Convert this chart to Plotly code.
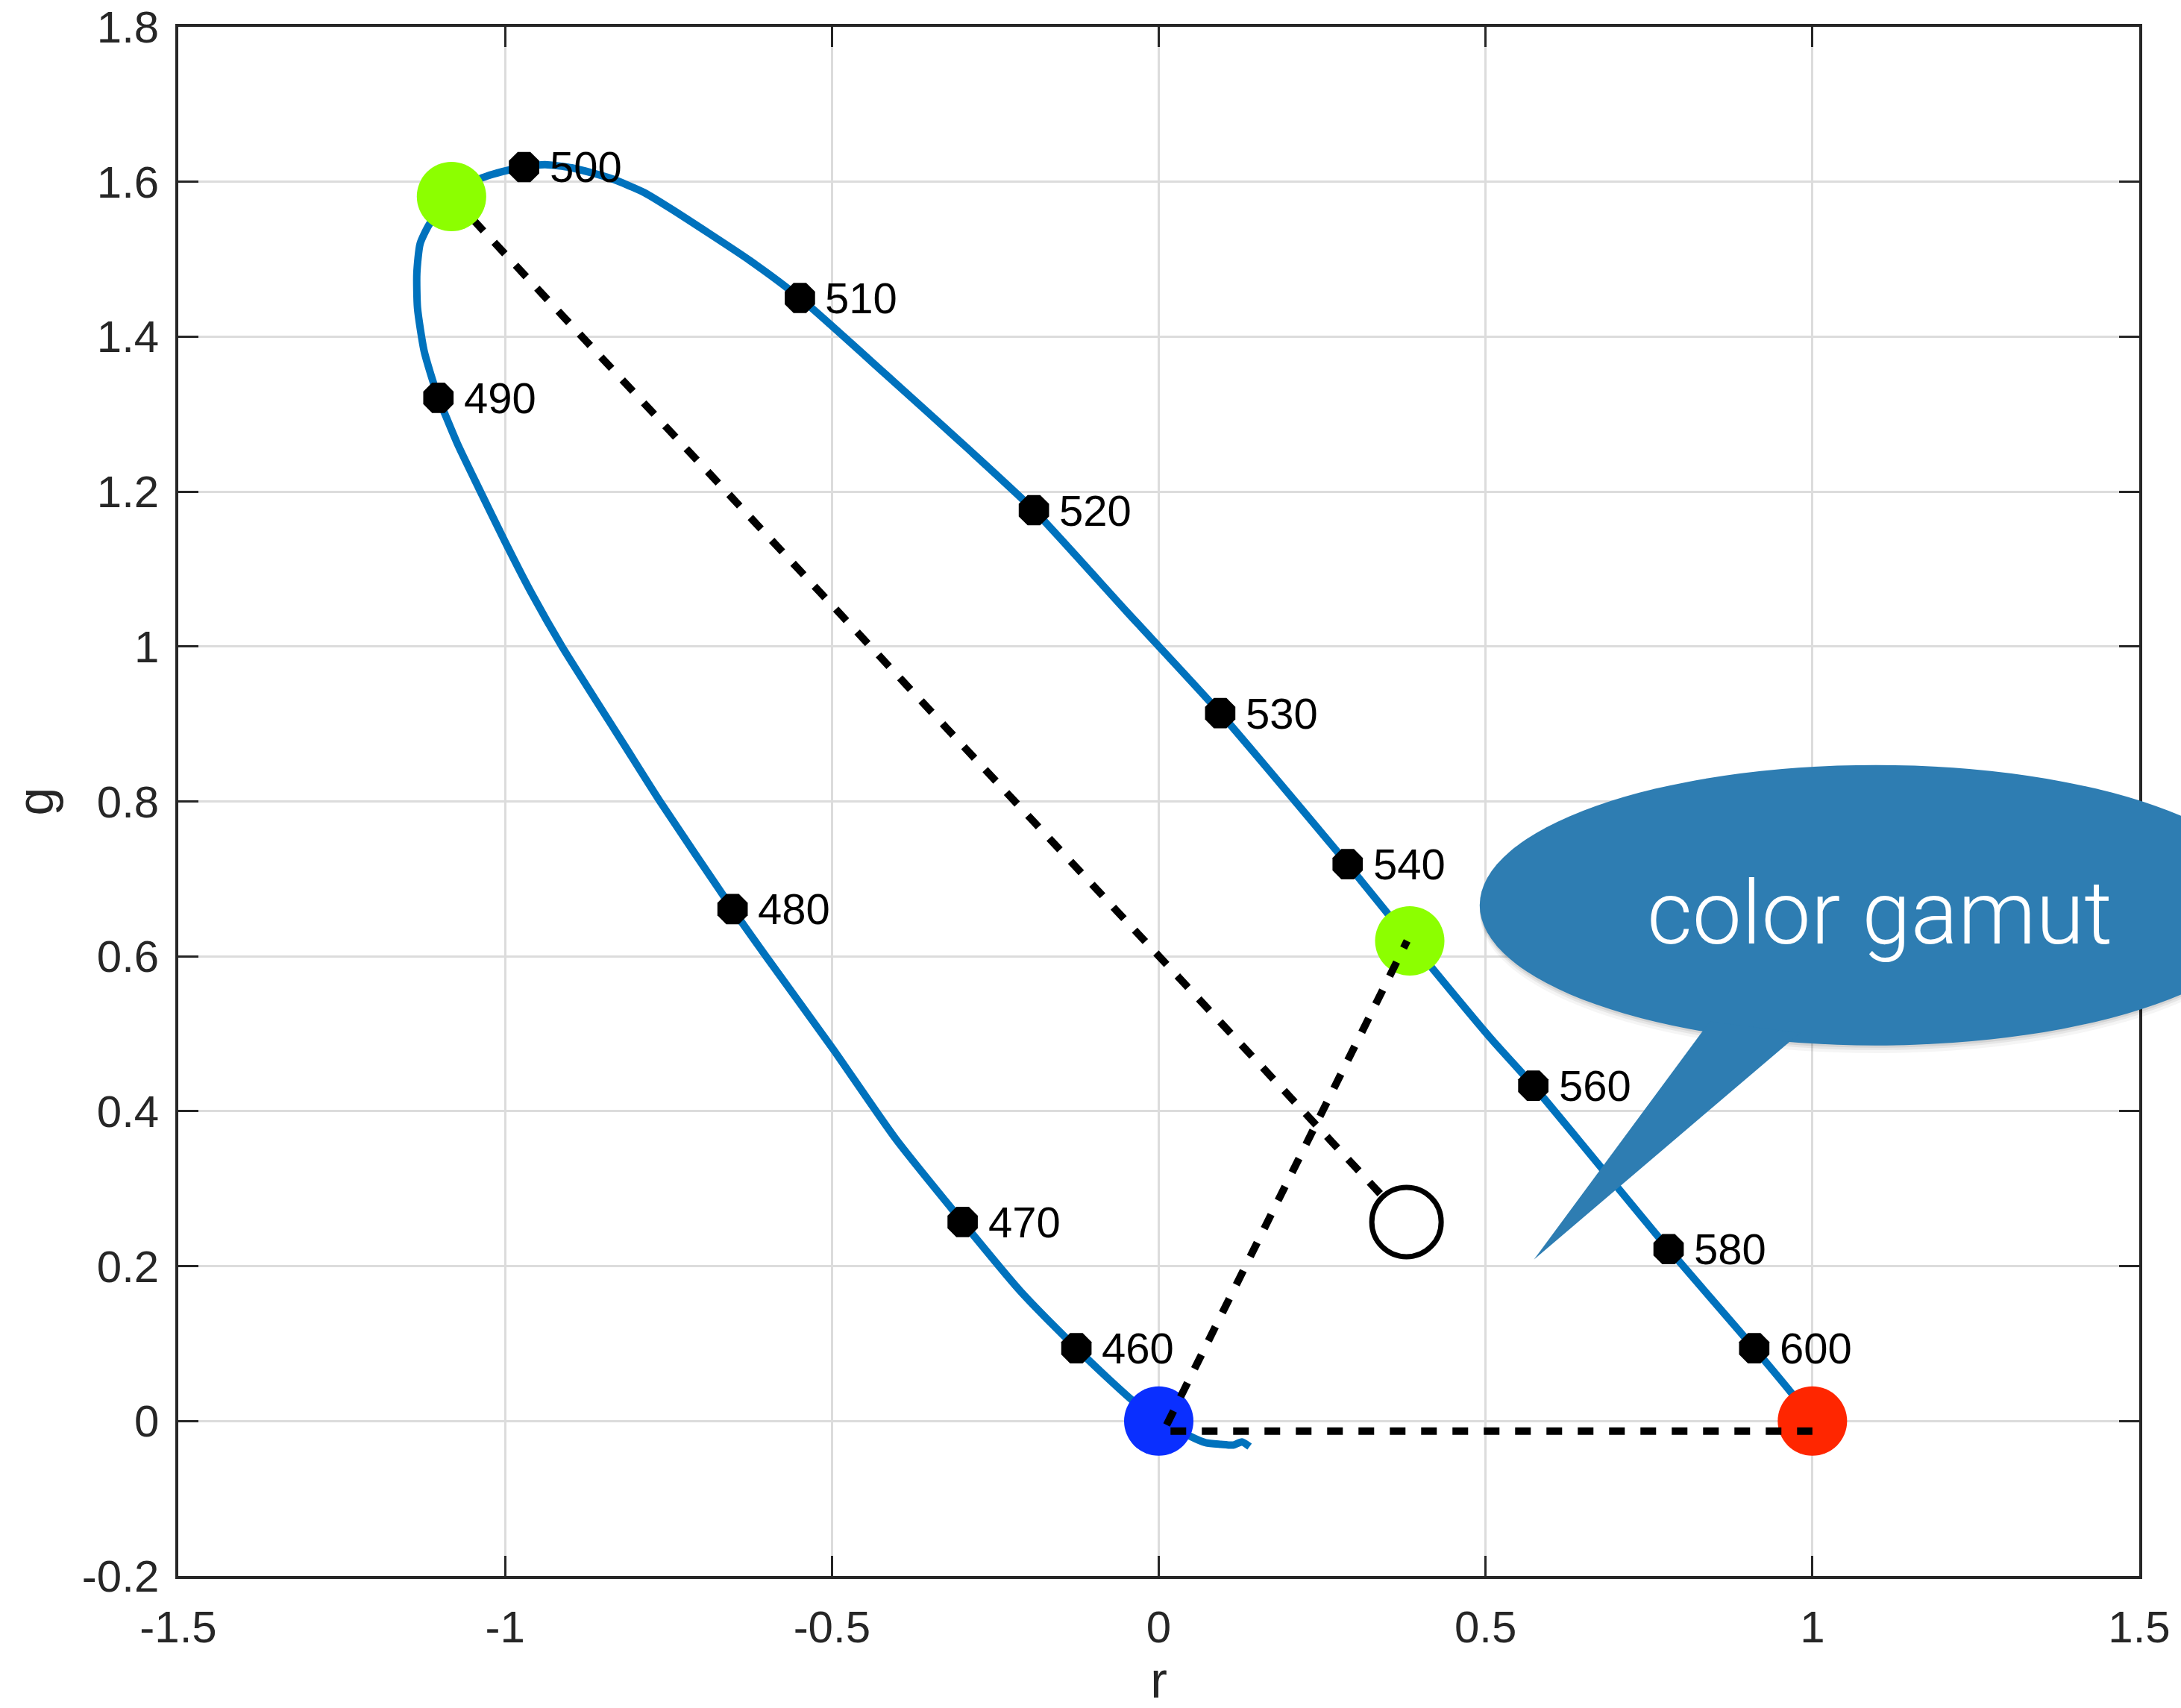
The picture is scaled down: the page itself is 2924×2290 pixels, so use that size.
import plotly.graph_objects as go

# Spectral locus in r-g chromaticity coordinates, traced from short to long wavelengths
locus_r = [0.139, 0.127, 0.114, 0.095, 0.072, 0.049, 0.025, 0.000, -0.038, -0.080,
           -0.126, -0.213, -0.300, -0.403, -0.498, -0.600, -0.652, -0.763, -0.817, -0.863,
           -0.913, -0.959, -1.000, -1.040, -1.072, -1.090, -1.102, -1.111, -1.124, -1.134,
           -1.135, -1.130, -1.116, -1.082, -1.038, -1.000, -0.971, -0.939, -0.898, -0.837,
           -0.787, -0.746, -0.625, -0.549, -0.416, -0.294, -0.191, -0.049, 0.094,
           0.289, 0.384, 0.509, 0.573, 0.780, 0.911, 0.973, 1.000]
locus_g = [-0.033, -0.027, -0.031, -0.030, -0.028, -0.020, -0.008, 0.000, 0.025, 0.057,
           0.094, 0.169, 0.257, 0.365, 0.480, 0.599, 0.661, 0.800, 0.872, 0.933,
           1.000, 1.068, 1.135, 1.204, 1.260, 1.296, 1.321, 1.344, 1.382, 1.437,
           1.482, 1.520, 1.545, 1.581, 1.604, 1.614, 1.619, 1.622, 1.618, 1.604,
           1.586, 1.565, 1.498, 1.450, 1.350, 1.257, 1.176, 1.045, 0.914,
           0.719, 0.620, 0.493, 0.433, 0.222, 0.094, 0.031, 0.000]

# Labelled wavelengths (nm) on the locus
wavelengths = [460, 470, 480, 490, 500, 510, 520, 530, 540, 560, 580, 600]
wl_r = [-0.126, -0.300, -0.652, -1.102, -0.971, -0.549, -0.191, 0.094, 0.289, 0.573, 0.780, 0.911]
wl_g = [0.094, 0.257, 0.661, 1.321, 1.619, 1.450, 1.176, 0.914, 0.719, 0.433, 0.222, 0.094]

# Primaries and white point
blue_primary = (0.000, 0.000)
red_primary = (1.000, 0.000)
green_primary = (0.384, 0.620)
green_spectral = (-1.082, 1.581)
white_point = (0.379, 0.257)

# Dashed construction lines
line_white_r = [-1.082, 0.379]
line_white_g = [1.581, 0.257]
line_bg_r = [0.012, 0.380]
line_bg_g = [-0.005, 0.620]
line_br_r = [0.018, 1.000]
line_br_g = [-0.013, -0.013]

# Axes
x_range = [-1.5, 1.5]
y_range = [-0.2, 1.8]
x_ticks = [-1.5, -1.0, -0.5, 0.0, 0.5, 1.0, 1.5]
x_tick_labels = ["-1.5", "-1", "-0.5", "0", "0.5", "1", "1.5"]
y_ticks = [-0.2, 0.0, 0.2, 0.4, 0.6, 0.8, 1.0, 1.2, 1.4, 1.6, 1.8]
y_tick_labels = ["-0.2", "0", "0.2", "0.4", "0.6", "0.8", "1", "1.2", "1.4", "1.6", "1.8"]

# Speech bubble geometry (data units; may extend past the plot edge)
bubble_r = [0.491, 1.703]
bubble_g = [0.485, 0.847]
bubble_tail_r = [0.843, 0.574, 0.981]
bubble_tail_g = [0.516, 0.2086, 0.501]
bubble_text = "color gamut"
bubble_text_pos = (1.103, 0.655)

FONT = "Liberation Sans, Arial, Helvetica, sans-serif"
DASH = "21px,21px"
BUBBLE = "#2e7db2"


def px(v):
    return (v - x_range[0]) / (x_range[1] - x_range[0])


def py(v):
    return (v - y_range[0]) / (y_range[1] - y_range[0])


fig = go.Figure()

fig.add_trace(go.Scatter(x=locus_r, y=locus_g, mode="lines",
                         line=dict(color="#0072BD", width=10, shape="spline", smoothing=0.6),
                         hoverinfo="skip"))
fig.add_trace(go.Scatter(x=wl_r, y=wl_g, mode="markers",
                         marker=dict(symbol="octagon", size=44, color="black"),
                         hoverinfo="skip"))
fig.add_trace(go.Scatter(x=line_white_r, y=line_white_g, mode="lines",
                         line=dict(color="black", width=10, dash=DASH), hoverinfo="skip"))
fig.add_trace(go.Scatter(
    x=[blue_primary[0], red_primary[0], green_primary[0], green_spectral[0]],
    y=[blue_primary[1], red_primary[1], green_primary[1], green_spectral[1]],
    mode="markers",
    marker=dict(size=93, color=["#0a2fff", "#ff2600", "#8cff00", "#8cff00"], line=dict(width=0)),
    hoverinfo="skip"))
fig.add_trace(go.Scatter(x=line_bg_r, y=line_bg_g, mode="lines",
                         line=dict(color="black", width=10, dash=DASH), hoverinfo="skip"))
fig.add_trace(go.Scatter(x=line_br_r, y=line_br_g, mode="lines",
                         line=dict(color="black", width=10, dash=DASH), hoverinfo="skip"))
fig.add_trace(go.Scatter(x=[white_point[0]], y=[white_point[1]], mode="markers",
                         marker=dict(size=93, color="white", line=dict(color="black", width=7)),
                         hoverinfo="skip"))

annotations = []
for wl, r, g in zip(wavelengths, wl_r, wl_g):
    annotations.append(dict(x=r, y=g, xref="x", yref="y", text=str(wl), showarrow=False,
                            xanchor="left", yanchor="middle", xshift=32, yshift=0,
                            font=dict(family=FONT, size=58, color="black")))

# Speech bubble: soft shadow, body, tail, label
shapes = []
for off, alpha in [(0.005, 0.04), (0.003, 0.06), (0.0015, 0.08)]:
    shapes.append(dict(type="circle", xref="paper", yref="paper", layer="above",
                       x0=px(bubble_r[0]), x1=px(bubble_r[1]),
                       y0=py(bubble_g[0]) - off, y1=py(bubble_g[1]) - off,
                       fillcolor=f"rgba(0,0,0,{alpha})", line=dict(width=0)))
shapes.append(dict(type="circle", xref="paper", yref="paper", layer="above",
                   x0=px(bubble_r[0]), x1=px(bubble_r[1]),
                   y0=py(bubble_g[0]), y1=py(bubble_g[1]),
                   fillcolor=BUBBLE, line=dict(width=0)))
tail_path = "M {} {} L {} {} L {} {} Z".format(
    px(bubble_tail_r[0]), py(bubble_tail_g[0]),
    px(bubble_tail_r[1]), py(bubble_tail_g[1]),
    px(bubble_tail_r[2]), py(bubble_tail_g[2]))
shapes.append(dict(type="path", xref="paper", yref="paper", layer="above", path=tail_path,
                   fillcolor=BUBBLE, line=dict(width=0)))

annotations.append(dict(x=bubble_text_pos[0], y=bubble_text_pos[1], xref="x", yref="y",
                        text=bubble_text, showarrow=False, xanchor="center", yanchor="middle",
                        font=dict(family="Roboto, Open Sans, sans-serif", size=118,
                                  color="white", weight=300)))

axis_common = dict(
    showline=True, linecolor="#262626", linewidth=3.5, mirror="ticks",
    ticks="inside", ticklen=27, tickwidth=3, tickcolor="#262626",
    showgrid=True, gridcolor="#dcdcdc", gridwidth=2.5, zeroline=False,
    automargin=False,
    tickfont=dict(family=FONT, size=60, color="#262626"),
)

fig.update_layout(
    width=2924, height=2290,
    margin=dict(l=239, r=56, t=36, b=177),
    paper_bgcolor="white", plot_bgcolor="white",
    showlegend=False,
    xaxis=dict(range=x_range, tickvals=x_ticks, ticktext=x_tick_labels, ticklabelstandoff=13,
               title=dict(text="r", font=dict(family=FONT, size=68, color="#262626"), standoff=34),
               **axis_common),
    yaxis=dict(range=y_range, tickvals=y_ticks, ticktext=y_tick_labels, ticklabelstandoff=10,
               title=dict(text="g", font=dict(family=FONT, size=68, color="#262626"), standoff=17),
               **axis_common),
    shapes=shapes,
    annotations=annotations,
)

fig.write_html("out.html")
